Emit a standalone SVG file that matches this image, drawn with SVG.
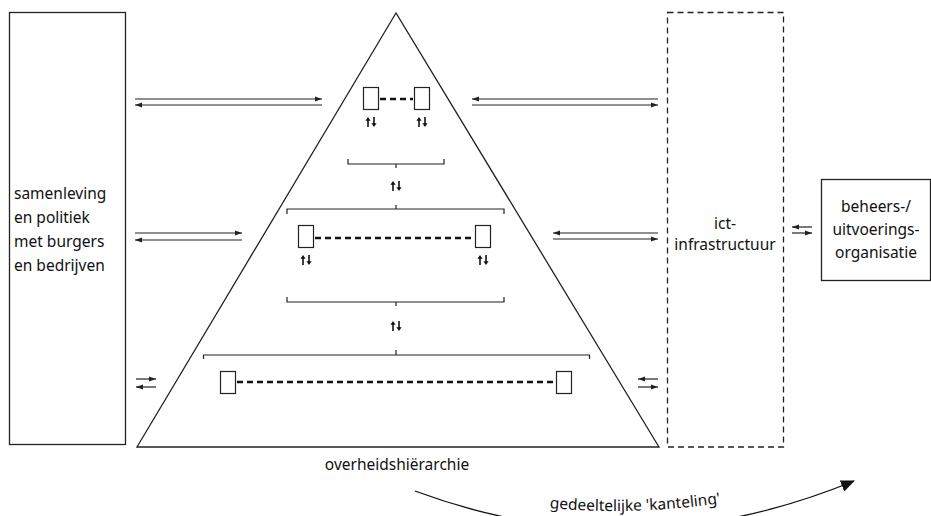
<svg xmlns="http://www.w3.org/2000/svg" width="931" height="516" viewBox="0 0 931 516">
<style>
.box{fill:#fff;stroke:#222;stroke-width:1.3}
.dbox{fill:none;stroke:#222;stroke-width:1.3;stroke-dasharray:6 4}
.ln{fill:none;stroke:#222;stroke-width:1.2}
.arr{fill:none;stroke:#222;stroke-width:1.2;marker-end:url(#ah)}
.dash{fill:none;stroke:#111;stroke-width:2.5;stroke-dasharray:6 4}
.sm{fill:#fff;stroke:#222;stroke-width:1.2}
text{font-family:"Noto Sans","Open Sans","DejaVu Sans",sans-serif;font-size:15.5px;fill:#111}
.c{text-anchor:middle}
</style>
<defs>
<marker id="ah" viewBox="0 0 7 6" refX="7" refY="3" markerWidth="7" markerHeight="6" markerUnits="userSpaceOnUse" orient="auto">
<path d="M0 0.5 L7 3 L0 5.5 Z" fill="#222"/>
</marker>
<marker id="big" viewBox="0 0 14 12" refX="13" refY="6" markerWidth="14" markerHeight="12" markerUnits="userSpaceOnUse" orient="auto">
<path d="M0 0 L14 6 L0 12 Z" fill="#111"/>
</marker>
<g id="ud">
<path d="M-3 10 V2" fill="none" stroke="#111" stroke-width="1.6"/>
<path d="M-5.6 3.8 L-3 0 L-0.4 3.8 Z" fill="#111"/>
<path d="M3 0 V8" fill="none" stroke="#111" stroke-width="1.6"/>
<path d="M0.4 6.2 L3 10 L5.6 6.2 Z" fill="#111"/>
</g>
</defs>

<g id="samenleving">
<rect class="box" x="9.5" y="12.5" width="116" height="432"/>
<text x="14" y="199">samenleving</text>
<text x="14" y="223">en politiek</text>
<text x="14" y="247">met burgers</text>
<text x="14" y="271">en bedrijven</text>
</g>

<g id="overheid">
<path class="box" d="M396 13 L137 447 L659 447 Z"/>
<text class="c" x="397" y="470">overheidshiërarchie</text>
<g id="level1">
<rect class="sm" x="363.5" y="87.5" width="15" height="22"/>
<rect class="sm" x="414.5" y="87.5" width="15" height="22"/>
<path class="dash" d="M380 99 H413" stroke-dasharray="7 4.5"/>
<use href="#ud" x="371" y="117"/>
<use href="#ud" x="422" y="117"/>
</g>
<path class="ln" d="M348 159 V164 H444 V159 M396 164 V168"/>
<use href="#ud" x="396" y="181"/>
<path class="ln" d="M287 214 V209 H504 V214 M396 209 V205"/>
<g id="level2">
<rect class="sm" x="298.5" y="225.5" width="15" height="22"/>
<rect class="sm" x="475.5" y="225.5" width="15" height="22"/>
<path class="dash" d="M315 238 H474"/>
<use href="#ud" x="306" y="255"/>
<use href="#ud" x="483" y="255"/>
</g>
<path class="ln" d="M287 297 V302 H504 V297 M396 302 V306"/>
<use href="#ud" x="396" y="321"/>
<path class="ln" d="M203.5 359 V355 H589.5 V359 M396 355 V350"/>
<g id="level3">
<rect class="sm" x="220.5" y="371.5" width="15" height="22"/>
<rect class="sm" x="556.5" y="371.5" width="15" height="22"/>
<path class="dash" d="M237 382 H555"/>
</g>
</g>

<g id="ict">
<rect class="dbox" x="667.5" y="12.5" width="116" height="434.5"/>
<text class="c" x="725" y="229">ict-</text>
<text class="c" x="725" y="250">infrastructuur</text>
</g>

<g id="beheer">
<rect class="box" x="821.5" y="179.5" width="109" height="101"/>
<text class="c" x="876" y="212">beheers-/</text>
<text class="c" x="876" y="235">uitvoerings-</text>
<text class="c" x="876" y="258">organisatie</text>
</g>

<g id="connectors">
<path class="arr" d="M135 99 H322"/>
<path class="arr" d="M322 105 H135"/>
<path class="arr" d="M658 99 H472"/>
<path class="arr" d="M472 105 H658"/>
<path class="arr" d="M135 233 H242"/>
<path class="arr" d="M242 240 H135"/>
<path class="arr" d="M658 233 H553"/>
<path class="arr" d="M553 239 H658"/>
<path class="arr" d="M812 227 H792"/>
<path class="arr" d="M792 233 H812"/>
<path class="arr" d="M136 379 H156"/>
<path class="arr" d="M156 387 H136"/>
<path class="arr" d="M658 379 H638"/>
<path class="arr" d="M638 387 H658"/>
<path id="curve" d="M415 491 Q632 572 854 481" fill="none" stroke="#111" stroke-width="1.3" marker-end="url(#big)"/>
<path id="tcurve" d="M415 483 Q630 544 854 472" fill="none"/>
<text><textPath href="#tcurve" startOffset="50%" text-anchor="middle">gedeeltelijke 'kanteling'</textPath></text>
</g>
</svg>
